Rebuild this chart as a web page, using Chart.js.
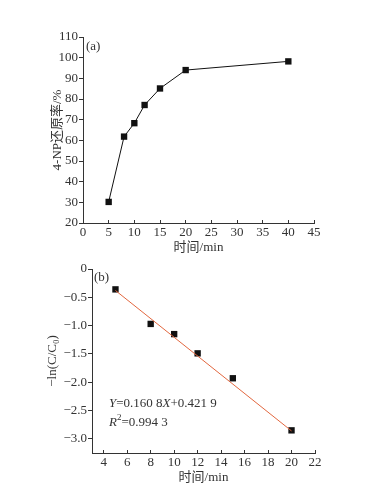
<!DOCTYPE html>
<html><head><meta charset="utf-8">
<script src="https://cdn.jsdelivr.net/npm/chart.js@4/dist/chart.umd.min.js"></script>
<style>
html,body{margin:0;padding:0;background:#fff;}
#wrap{position:relative;width:383px;height:495px;overflow:hidden;background:#fff;}
#c1{position:absolute;left:0;top:0;}
#c2{position:absolute;left:0;top:259px;}
</style></head><body>
<div id="wrap"><canvas id="c1" width="383" height="259"></canvas><canvas id="c2" width="383" height="236"></canvas></div>
<script>
// ---- data (a) ----
const timeA = [5, 8, 10, 12, 15, 20, 40];
const reductionA = [30.2, 61.8, 68.3, 77.1, 85.1, 94.0, 98.2];
const xTicksA = [0, 5, 10, 15, 20, 25, 30, 35, 40, 45];
const yTicksA = [20, 30, 40, 50, 60, 70, 80, 90, 100, 110];
// ---- data (b) ----
const timeB = [5, 8, 10, 12, 15, 20];
const lnB = [-0.36, -0.97, -1.15, -1.49, -1.93, -2.85];
const fitX = [5, 20];
const fitY = [-0.38, -2.86];
const xTicksB = [4, 6, 8, 10, 12, 14, 16, 18, 20, 22];
const yTicksB = [0, -0.5, -1.0, -1.5, -2.0, -2.5, -3.0];

const FAM = "'Liberation Serif', 'Noto Sans CJK SC', serif";
const TXT = '#333';
const tickFont = {family: FAM, size: 13};
const titleFont = {family: FAM, size: 13};

function fmtB(v){ if (v === 0) return '0'; return (v < 0 ? '\u2212' : '') + Math.abs(v).toFixed(1); }

function xScale(min, max, ticks, label, h, fmt){
  return {
    type: 'linear', min, max,
    afterBuildTicks: s => { s.ticks = ticks.map(v => ({value: v})); },
    afterFit: s => { s.height = h; },
    grid: {drawOnChartArea: false, tickLength: -3, color: '#333', lineWidth: 1},
    border: {color: '#333', width: 1},
    ticks: {padding: 5, color: TXT, font: tickFont, maxRotation: 0, autoSkip: false,
            callback: v => fmt ? fmt(v) : String(v)},
    title: {display: true, text: label, color: TXT, font: titleFont, padding: {top: 0, bottom: 4}}
  };
}
function yScale(min, max, ticks, label, w, fmt){
  return {
    type: 'linear', min, max,
    afterBuildTicks: s => { s.ticks = ticks.map(v => ({value: v})); },
    afterFit: s => { s.width = w; },
    grid: {drawOnChartArea: false, tickLength: 4, color: '#333', lineWidth: 1},
    border: {color: '#333', width: 1},
    ticks: {padding: 1, color: TXT, font: tickFont, autoSkip: false,
            callback: v => fmt ? fmt(v) : String(v)},
    title: {display: true, text: label, color: TXT, font: titleFont, padding: {top: 4, bottom: 0}}
  };
}

function drawRich(ctx, x, y, segs){
  let cx = x;
  ctx.textBaseline = 'middle';
  ctx.textAlign = 'left';
  for (const [t, style] of segs){
    if (style === 'sup'){
      ctx.font = `9px ${FAM}`;
      ctx.fillText(t, cx, y - 5);
    } else {
      ctx.font = `${style === 'i' ? 'italic ' : ''}13px ${FAM}`;
      ctx.fillText(t, cx, y);
    }
    cx += ctx.measureText(t).width;
  }
}

const labelA = {
  id: 'labelA',
  afterDraw(chart){
    const {ctx, chartArea} = chart;
    ctx.save(); ctx.fillStyle = TXT;
    drawRich(ctx, chartArea.left + 3, chartArea.top + 10, [['(a)', 'n']]);
    ctx.restore();
  }
};
const labelB = {
  id: 'labelB',
  afterDraw(chart){
    const {ctx, chartArea, scales} = chart;
    ctx.save(); ctx.fillStyle = TXT;
    drawRich(ctx, chartArea.left + 2, chartArea.top + 9, [['(b)', 'n']]);
    const ex = scales.x.getPixelForValue(4.45);
    drawRich(ctx, ex, scales.y.getPixelForValue(-2.37),
      [['Y', 'i'], ['=0.160 8', 'n'], ['X', 'i'], ['+0.421 9', 'n']]);
    drawRich(ctx, ex, scales.y.getPixelForValue(-2.72),
      [['R', 'i'], ['2', 'sup'], ['=0.994 3', 'n']]);
    ctx.restore();
  }
};

const common = {
  responsive: false, animation: false, devicePixelRatio: 1,
  plugins: {legend: {display: false}, tooltip: {enabled: false}}
};

new Chart(document.getElementById('c1'), {
  type: 'line',
  data: {datasets: [{
    data: timeA.map((x, i) => ({x, y: reductionA[i]})),
    borderColor: '#111', borderWidth: 1, showLine: true,
    pointStyle: 'rect', pointRadius: 4.5, pointBackgroundColor: '#111', pointBorderWidth: 0
  }]},
  options: Object.assign({}, common, {
    layout: {padding: {left: 46, top: 37, right: 69, bottom: 0}},
    scales: {
      x: xScale(0, 45, xTicksA, '时间/min', 36),
      y: yScale(20, 110, yTicksA, '4-NP还原率/%', 37)
    }
  }),
  plugins: [labelA]
});

new Chart(document.getElementById('c2'), {
  type: 'scatter',
  data: {datasets: [
    {
      type: 'line',
      data: fitX.map((x, i) => ({x, y: fitY[i]})),
      borderColor: '#e2673f', borderWidth: 1, pointRadius: 0, showLine: true
    },
    {
      data: timeB.map((x, i) => ({x, y: lnB[i]})),
      pointStyle: 'rect', pointRadius: 4.5, pointBackgroundColor: '#111', pointBorderWidth: 0,
      borderColor: '#111'
    }
  ]},
  options: Object.assign({}, common, {
    layout: {padding: {left: 41, top: 10, right: 68, bottom: 6}},
    scales: {
      x: xScale(3, 22, xTicksB, '时间/min', 36),
      y: yScale(-3.25, 0, yTicksB, '\u2212ln(C/C\u2080)', 51, fmtB)
    }
  }),
  plugins: [labelB]
});
</script>
</body></html>
